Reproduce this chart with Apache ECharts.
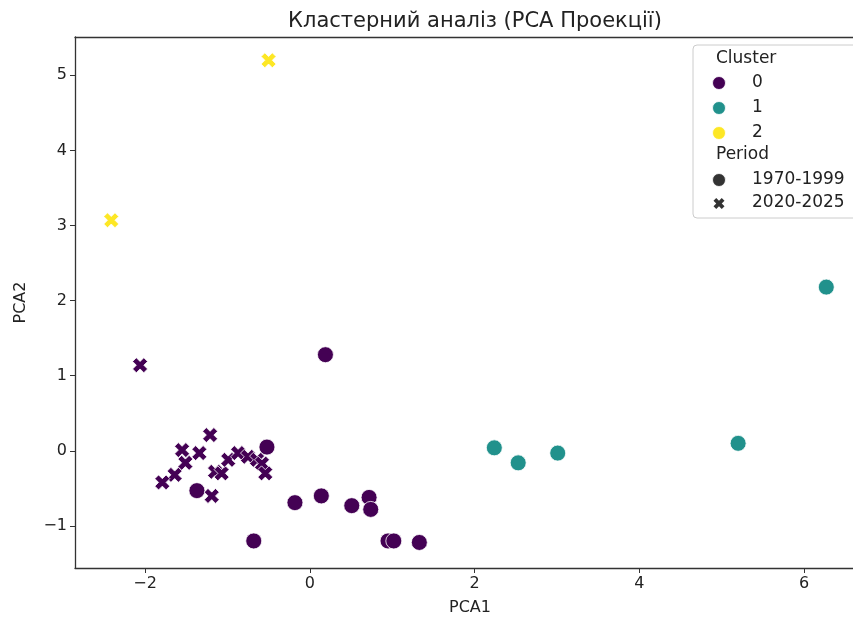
<!DOCTYPE html>
<html>
<head>
<meta charset="utf-8">
<script src="https://cdn.jsdelivr.net/npm/echarts@6/dist/echarts.min.js"></script>
<style>html,body{margin:0;padding:0;background:#fff}#c{width:853px;height:617px}</style>
</head>
<body>
<div id="c"></div>
<script>
// ---- data ----
var cluster0_1970 = [[0.19,1.28],[-0.52,0.05],[-1.37,-0.53],[-0.18,-0.69],[0.14,-0.60],[0.51,-0.73],[0.72,-0.62],[0.74,-0.78],[-0.68,-1.20],[0.95,-1.20],[1.02,-1.20],[1.33,-1.22]];
var cluster0_2020 = [[-2.06,1.14],[-1.21,0.21],[-1.55,0.01],[-1.34,-0.03],[-1.51,-0.16],[-1.64,-0.32],[-1.79,-0.42],[-1.15,-0.28],[-1.07,-0.30],[-0.99,-0.12],[-0.87,-0.03],[-0.75,-0.08],[-0.64,-0.12],[-0.58,-0.17],[-0.54,-0.30],[-1.19,-0.60]];
var cluster1_1970 = [[2.24,0.04],[2.53,-0.16],[3.01,-0.03],[5.20,0.10],[6.27,2.18]];
var cluster2_2020 = [[-2.41,3.07],[-0.50,5.20]];
var xTicks = [-2,0,2,4,6];
var yTicks = [-1,0,1,2,3,4,5];
var clusterLabels = ['0','1','2'];
var periodLabels = ['1970-1999','2020-2025'];

var colors = ['#440154','#21918c','#fde725'];
var XPTS = [[0,2.5],[2.5,0],[5,2.5],[7.5,0],[10,2.5],[7.5,5],[10,7.5],[7.5,10],[5,7.5],[2.5,10],[0,7.5],[2.5,5]];
var XPATH = 'path://M' + XPTS.map(function(p){return p[0]+','+p[1];}).join('L') + 'Z';
var FONT = 'DejaVu Sans';
function fmt(v){ return String(v).replace('-', '\u2212'); }

function sc(name, data, color, symbol, size){
  return {
    type:'scatter', name:name, data:data, symbol:symbol, symbolSize:size,
    itemStyle:{color:color, borderColor:'#fff', borderWidth:0.8, opacity:1},
    emphasis:{disabled:true}
  };
}

var LF = '17px "DejaVu Sans"';
var legendItems = [
  {type:'rect', shape:{x:693, y:45, width:175, height:173, r:4}, style:{fill:'rgba(255,255,255,0.85)', stroke:'#cccccc', lineWidth:1}},
  {type:'text', x:716, y:59, style:{text:'Cluster', font:LF, fill:'#222', verticalAlign:'middle'}},
  {type:'text', x:716, y:155, style:{text:'Period', font:LF, fill:'#222', verticalAlign:'middle'}}
];
var cy = [83,108,133];
for (var i=0;i<3;i++){
  legendItems.push({type:'circle', shape:{cx:719, cy:cy[i], r:6.5}, style:{fill:colors[i], stroke:'#fff', lineWidth:0.8}});
  legendItems.push({type:'text', x:752, y:cy[i], style:{text:clusterLabels[i], font:LF, fill:'#222', verticalAlign:'middle'}});
}
legendItems.push({type:'circle', shape:{cx:719, cy:180, r:6.5}, style:{fill:'#333', stroke:'#fff', lineWidth:0.8}});
legendItems.push({type:'text', x:752, y:180, style:{text:periodLabels[0], font:LF, fill:'#222', verticalAlign:'middle'}});
legendItems.push({type:'polygon', shape:{points:XPTS.map(function(p){return [713.5+p[0]*1.1, 198+p[1]*1.1];})}, style:{fill:'#333'}});
legendItems.push({type:'text', x:752, y:203, style:{text:periodLabels[1], font:LF, fill:'#222', verticalAlign:'middle'}});

var axisColor = '#333';
var chart = echarts.init(document.getElementById('c'), null, {renderer:'canvas'});
chart.setOption({
  animation:false,
  backgroundColor:'#fff',
  textStyle:{fontFamily:FONT},
  title:{text:'Кластерний аналіз (PCA Проекції)', left:470, top:6, textAlign:'center',
    textStyle:{fontFamily:FONT, fontSize:21, fontWeight:'normal', color:'#222'}},
  grid:{left:75, top:37, width:790, height:531, show:false, outerBoundsMode:'none', containLabel:false},
  xAxis:[{type:'value', min:-2.85, max:6.74, name:'PCA1', nameLocation:'middle', nameGap:32,
    nameTextStyle:{fontFamily:FONT, fontSize:16, color:'#222'},
    axisLine:{show:true, onZero:false, lineStyle:{color:axisColor, width:1.3}},
    axisTick:{show:true, customValues:xTicks, length:5, lineStyle:{color:axisColor}},
    axisLabel:{customValues:xTicks, formatter:fmt, fontFamily:FONT, fontSize:16, color:'#222', margin:8},
    splitLine:{show:false}},
   {type:'value', position:'top', min:-2.85, max:6.74,
    axisLine:{show:true, onZero:false, lineStyle:{color:axisColor, width:1.3}},
    axisTick:{show:false}, axisLabel:{show:false}, splitLine:{show:false}}],
  yAxis:{type:'value', min:-1.56, max:5.51, name:'PCA2', nameLocation:'middle', nameGap:46,
    nameTextStyle:{fontFamily:FONT, fontSize:16, color:'#222'},
    axisLine:{show:true, onZero:false, lineStyle:{color:axisColor, width:1.3}},
    axisTick:{show:true, customValues:yTicks, length:5, lineStyle:{color:axisColor}},
    axisLabel:{customValues:yTicks, formatter:fmt, fontFamily:FONT, fontSize:16, color:'#222', margin:8},
    splitLine:{show:false}},
  series:[
    sc('0-1970', cluster0_1970, colors[0], 'circle', 16),
    sc('0-2020', cluster0_2020, colors[0], XPATH, 15),
    sc('1-1970', cluster1_1970, colors[1], 'circle', 16),
    sc('2-2020', cluster2_2020, colors[2], XPATH, 15)
  ],
  graphic:{elements:legendItems}
});
</script>
</body>
</html>
